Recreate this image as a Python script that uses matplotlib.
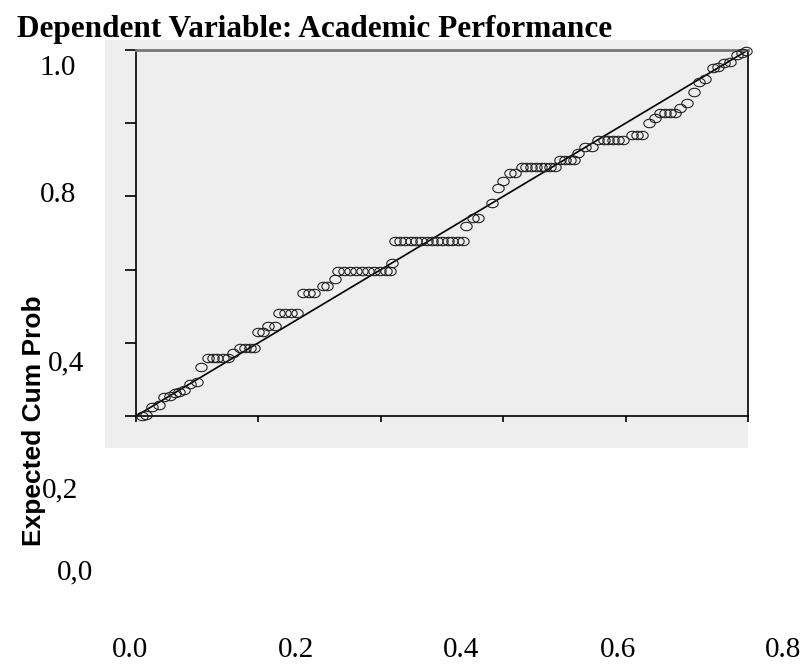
import matplotlib
matplotlib.use("Agg")
import matplotlib.pyplot as plt
import numpy as np
from matplotlib.patches import Rectangle

W, H = 801, 666

obs_cum = [0.009, 0.017, 0.026, 0.038, 0.046, 0.056, 0.064, 0.071, 0.079, 0.089,
           0.099, 0.106, 0.117, 0.125, 0.133, 0.142, 0.150, 0.159, 0.170, 0.178,
           0.186, 0.193, 0.200, 0.207, 0.216, 0.227, 0.234, 0.243, 0.253, 0.263,
           0.273, 0.282, 0.291, 0.305, 0.312, 0.325, 0.330, 0.340, 0.350, 0.359,
           0.369, 0.379, 0.389, 0.399, 0.408, 0.415, 0.418, 0.423, 0.432, 0.440,
           0.449, 0.457, 0.466, 0.475, 0.483, 0.492, 0.500, 0.509, 0.517, 0.526,
           0.534, 0.539, 0.551, 0.559, 0.581, 0.591, 0.600, 0.611, 0.619, 0.630,
           0.638, 0.646, 0.654, 0.662, 0.669, 0.677, 0.685, 0.693, 0.701, 0.709,
           0.716, 0.722, 0.734, 0.745, 0.755, 0.764, 0.772, 0.780, 0.788, 0.796,
           0.810, 0.818, 0.826, 0.838, 0.848, 0.857, 0.865, 0.873, 0.881, 0.889,
           0.900, 0.911, 0.920, 0.930, 0.942, 0.951, 0.960, 0.971, 0.982, 0.990,
           0.997]
exp_cum = [0.001, 0.003, 0.024, 0.030, 0.052, 0.055, 0.064, 0.066, 0.071, 0.087,
           0.094, 0.133, 0.159, 0.159, 0.159, 0.159, 0.159, 0.171, 0.185, 0.185,
           0.185, 0.185, 0.230, 0.230, 0.246, 0.246, 0.281, 0.281, 0.281, 0.281,
           0.335, 0.335, 0.335, 0.356, 0.356, 0.374, 0.396, 0.396, 0.396, 0.396,
           0.396, 0.396, 0.396, 0.396, 0.396, 0.396, 0.417, 0.478, 0.478, 0.478,
           0.478, 0.478, 0.478, 0.478, 0.478, 0.478, 0.478, 0.478, 0.478, 0.478,
           0.478, 0.519, 0.540, 0.540, 0.583, 0.622, 0.642, 0.663, 0.663, 0.681,
           0.681, 0.681, 0.681, 0.681, 0.681, 0.681, 0.681, 0.699, 0.699, 0.699,
           0.699, 0.719, 0.734, 0.734, 0.754, 0.754, 0.754, 0.754, 0.754, 0.754,
           0.768, 0.768, 0.768, 0.800, 0.813, 0.827, 0.827, 0.827, 0.827, 0.841,
           0.854, 0.886, 0.913, 0.920, 0.950, 0.954, 0.964, 0.968, 0.986, 0.993,
           0.997]

ticks = [0.0, 0.2, 0.4, 0.6, 0.8, 1.0]

title = "Dependent Variable: Academic Performance"
ylabel = "Expected Cum Prob"
# stray tick labels pasted around the plot, as in the original picture
left_labels = ["1.0", "0.8", "0,4", "0,2", "0,0"]
left_label_px = [(58, 68), (58, 195), (66, 363), (60, 490), (75, 572)]
bottom_labels = ["0.0", "0.2", "0.4", "0.6", "0.8"]
bottom_label_x = [130, 296, 461, 618, 783]

grey = "#eeeeee"

fig = plt.figure(figsize=(W / 100, H / 100), dpi=100)

def fx(px):
    return px / W

def fy(py):
    return 1 - py / H

# grey panel behind the plot
fig.patches.append(Rectangle((fx(105), fy(448)), (748 - 105) / W, (448 - 40) / H,
                             transform=fig.transFigure, facecolor=grey,
                             edgecolor="none", zorder=-5))

ax = fig.add_axes([fx(136), fy(416), (748 - 136) / W, (416 - 50) / H])
ax.set_zorder(1)
ax.set_facecolor(grey)
ax.set_xlim(0, 1)
ax.set_ylim(0, 1)

t = np.linspace(0, 2 * np.pi, 40)
ellipse = np.column_stack([1.35 * np.cos(t), np.sin(t)])

ax.plot([0, 1], [0, 1], color="black", lw=1.2, zorder=2)
ax.plot(obs_cum, exp_cum, linestyle="none", marker=ellipse, markersize=8.2,
        markerfacecolor="none", markeredgecolor="#222222", markeredgewidth=0.8,
        zorder=3, clip_on=False)

ax.set_xticks(ticks)
ax.set_yticks(ticks)
ax.set_xticklabels([])
ax.set_yticklabels([])
ax.tick_params(axis="y", direction="out", length=8, width=1.2, color="black")
ax.tick_params(axis="x", direction="out", length=4.5, width=1.2, color="black")
for side in ["left", "bottom", "right"]:
    ax.spines[side].set_color("black")
    ax.spines[side].set_linewidth(1.2)
ax.spines["top"].set_color("#777777")
ax.spines["top"].set_linewidth(2)

fig.text(fx(17), fy(37), title, fontsize=22.5, fontweight="bold",
         family="Liberation Serif", ha="left", va="baseline")
fig.text(fx(34), fy(421), ylabel, fontsize=19, fontweight="bold",
         family="Liberation Sans", rotation=90, ha="center", va="center")

for lab, (px, py) in zip(left_labels, left_label_px):
    fig.text(fx(px), fy(py), lab, fontsize=21, family="Liberation Serif",
             ha="center", va="center")
for lab, px in zip(bottom_labels, bottom_label_x):
    fig.text(fx(px), fy(650), lab, fontsize=21, family="Liberation Serif",
             ha="center", va="center")

fig.savefig("out.png", dpi=100)
